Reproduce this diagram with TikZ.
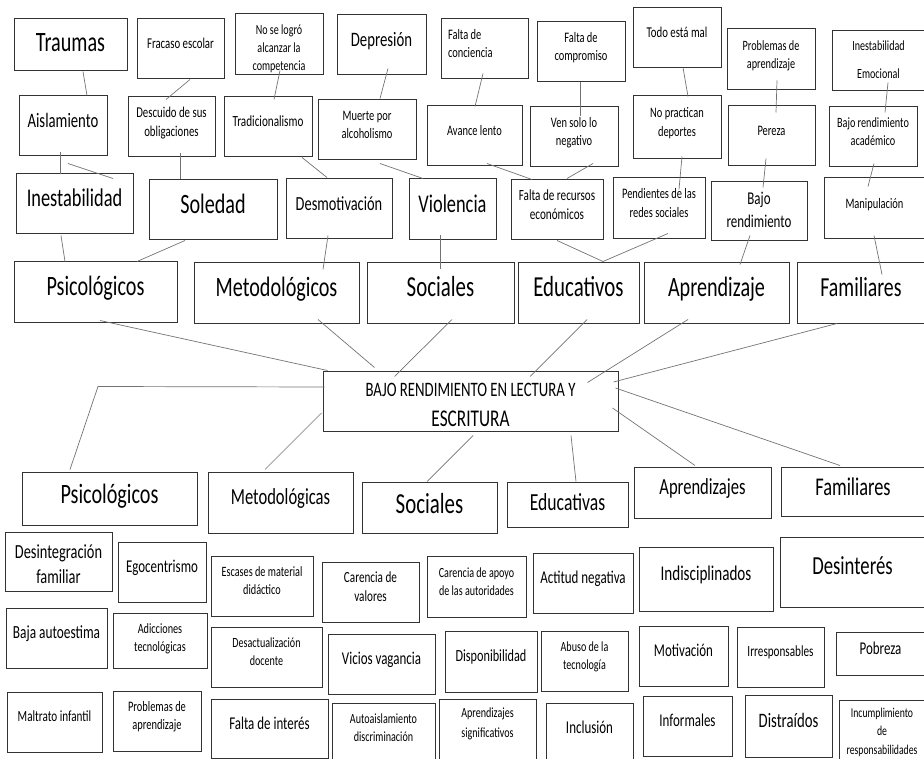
\documentclass[tikz,border=0pt]{standalone}
\usepackage{fontspec}
\setmainfont{Carlito}[FakeStretch=0.72]
\usetikzlibrary{calc}

\tikzset{
  alza/.store in=\cajaalza,
  caja/.style={draw=black!80, line width=1pt, inner sep=0pt, alza=8pt},
  lin/.style={draw=black!55, line width=0.7pt}
}

% caja: [opciones]{nombre}{x1}{y1}{x2}{y2}{tamano}{texto}
\newcommand{\caja}[8][]{%
  \pgfmathsetmacro{\cajabs}{1.28*#7}%
  \node[caja, font=\fontsize{#7}{\cajabs}\selectfont,
        minimum width=#5-#3, minimum height=#6-#4, #1]
    (#2) at ({(#3+#5)/2},{(#4+#6)/2})
    {\raisebox{0pt}[\height][\dimexpr\depth+\cajaalza\relax]{\begin{tabular}{@{}c@{}}#8\end{tabular}}};}

\begin{document}
\begin{tikzpicture}[x=1pt,y=-1pt]
\useasboundingbox (0,0) rectangle (924,759);

% fila superior
\caja[alza=2pt]{trau}{14}{19}{127}{71}{28}{Traumas}
\caja{frac}{137}{19}{224}{79}{15}{Fracaso escolar}
\caja[alza=-8pt]{nolo}{235}{14}{323}{75}{14}{No se logró\\alcanzar la\\competencia}
\caja{depr}{337}{15}{426}{75}{20.5}{Depresión}
\caja{fcon}{441}{19}{528}{79}{14.5}{\makebox[73pt][l]{Falta de}\\\makebox[73pt][l]{conciencia}}
\caja{fcom}{537}{22}{625}{82}{14.5}{Falta de\\compromiso}
\caja{todo}{633}{8}{721}{68}{15}{Todo está mal}
\caja{prob}{727}{29}{815}{90}{14.2}{Problemas de\\aprendizaje}
\caja[alza=0pt]{ines}{832}{31}{925}{91}{14}{Inestabilidad\\[10pt]Emocional}

\caja{aisl}{19}{96}{107}{156}{20.5}{Aislamiento}
\caja{desc}{128}{97}{215}{157}{15}{Descuido de sus\\obligaciones}
\caja{trad}{224}{97}{312}{157}{15.5}{Tradicionalismo}
\caja{muer}{318}{100}{416}{160}{14.5}{Muerte por\\alcoholismo}
\caja{avan}{427}{106}{522}{166}{14.5}{Avance lento}
\caja{vens}{530}{107}{618}{167}{14.5}{Ven solo lo\\negativo}
\caja{nopr}{633}{96}{721}{159}{14.5}{No practican\\deportes}
\caja{pere}{728}{106}{815}{166}{14.5}{Pereza}
\caja{bren}{829}{107}{917}{167}{14.2}{Bajo rendimiento\\académico}

\caja{inest}{16}{174}{133}{234}{25.5}{Inestabilidad}
\caja{sole}{149}{180}{277}{240}{28}{Soledad}
\caja{desm}{286}{179}{392}{239}{20}{Desmotivación}
\caja{viol}{409}{179}{496}{240}{25.5}{Violencia}
\caja{frec}{511}{180}{603}{240}{15.5}{Falta de recursos\\económicos}
\caja{pend}{613}{178}{705}{239}{14.5}{Pendientes de las\\redes sociales}
\caja[alza=0pt]{bajo}{711}{182}{807}{241}{18}{Bajo\\rendimiento}
\caja{mani}{824}{178}{925}{239}{14.5}{Manipulación}

% factores (arriba)
\caja{psi1}{14}{262}{177}{323}{28}{Psicológicos}
\caja{met1}{194}{263}{359}{324}{28}{Metodológicos}
\caja{soc1}{367}{263}{514}{324}{29}{Sociales}
\caja{edu1}{518}{263}{639}{324}{29}{Educativos}
\caja{apr1}{644}{263}{789}{324}{28}{Aprendizaje}
\caja{fam1}{797}{263}{925}{324}{27.5}{Familiares}

% problema central
\caja[alza=-9.6pt]{cen}{323}{372}{618}{431}{20.5}{BAJO RENDIMIENTO EN LECTURA Y\\[3.8pt]\fontsize{24}{24}\selectfont ESCRITURA}

% factores (abajo)
\caja[alza=5pt]{psi2}{22}{472}{197}{525}{28}{Psicológicos}
\caja{met2}{208}{472}{353}{533}{23}{Metodológicas}
\caja[alza=3pt]{soc2}{362}{482}{497}{533}{29}{Sociales}
\caja[alza=1pt]{edu2}{507}{482}{628}{527}{24.5}{Educativas}
\caja{apr2}{634}{467}{771}{518}{23}{Aprendizajes}
\caja[alza=5pt]{fam2}{781}{467}{925}{516}{25.5}{Familiares}

\caja[alza=-9pt]{dfam}{5}{532}{112}{591}{20}{Desintegración\\familiar}
\caja{egoc}{118}{542}{206}{602}{18}{Egocentrismo}
\caja{esca}{211}{556}{313}{616}{14.2}{Escases de material\\didáctico}
\caja{cval}{322}{562}{419}{622}{15.5}{Carencia de\\valores}
\caja{capo}{427}{556}{526}{617}{14}{Carencia de apoyo\\de las autoridades}
\caja{acti}{533}{553}{633}{613}{18}{Actitud negativa}
\caja{indi}{639}{547}{773}{611}{21}{Indisciplinados}
\caja{desi}{780}{537}{925}{607}{26}{Desinterés}

\caja{baja}{6}{608}{107}{668}{18.5}{Baja autoestima}
\caja[alza=4pt]{adic}{113}{613}{207}{668}{14.2}{Adicciones\\tecnológicas}
\caja{desa}{211}{627}{322}{687}{14}{Desactualización\\docente}
\caja{vici}{328}{634}{435}{694}{18}{Vicios vagancia}
\caja{disp}{445}{631}{537}{692}{17}{Disponibilidad}
\caja{abus}{541}{631}{628}{691}{14}{Abuso de la\\tecnología}
\caja{moti}{639}{626}{728}{686}{18}{Motivación}
\caja{irre}{737}{627}{824}{687}{15.5}{Irresponsables}
\caja{pobr}{836}{632}{925}{675}{18}{Pobreza}

\caja{malt}{7}{692}{102}{752}{15.5}{Maltrato infantil}
\caja{prob2}{113}{691}{201}{751}{14.5}{Problemas de\\aprendizaje}
\caja{falt}{211}{699}{328}{758}{18}{Falta de interés}
\caja[alza=4pt]{auto}{332}{703}{435}{759}{14}{Autoaislamiento\\discriminación}
\caja[alza=10pt]{apsi}{439}{699}{536}{759}{14}{Aprendizajes\\[2pt]significativos}
\caja[alza=4pt]{incl}{546}{703}{633}{759}{18}{Inclusión}
\caja{info}{643}{696}{732}{756}{18}{Informales}
\caja{dist}{745}{695}{832}{757}{20.5}{Distraídos}
\caja[alza=-6pt]{incu}{839}{700}{925}{759}{13.5}{Incumplimiento\\[1pt]de\\[1pt]responsabilidades}

% lineas de arriba
\draw[lin] ($(trau.south)+(12.5,0)$) -- ($(aisl.north)+(24,0)$);
\draw[lin] ($(frac.south)+(9.5,0)$) -- ($(desc.north)+(-5.5,3)$);
\draw[lin] ($(nolo.south)+(1,-5)$) -- ($(trad.north)+(6,3)$);
\draw[lin] ($(aisl.south)+(-3,-4)$) -- ($(inest.north)+(-14.5,1)$);
\draw[lin] ($(aisl.south)+(5,7)$) -- ($(inest.north)+(38.5,5)$);
\draw[lin] ($(desc.south)+(8.5,-4)$) -- ($(sole.north)+(-33,0)$);
\draw[lin] ($(trad.south)+(34,0)$) -- ($(desm.north)+(-12,-1)$);
\draw[lin] ($(depr.south)+(6.5,-7)$) -- ($(muer.north)+(13,-1)$);
\draw[lin] ($(muer.south)+(13,3)$) -- ($(viol.north)+(-29.5,0)$);
\draw[lin] ($(fcon.south)+(-1.5,-6)$) -- ($(avan.north)+(0.5,1)$);
\draw[lin] ($(avan.south)+(12.5,-3)$) -- ($(frec.north)+(-25,0)$);
\draw[lin] ($(fcom.south)+(-1,0)$) -- ($(vens.north)+(6,10)$);
\draw[lin] ($(vens.south)+(19,-4)$) -- ($(frec.north)+(10,-1)$);
\draw[lin] ($(todo.south)+(6,-1)$) -- ($(nopr.north)+(11,1)$);
\draw[lin] ($(nopr.south)+(5,-3)$) -- ($(pend.north)+(20,12)$);
\draw[lin] ($(prob.south)+(6,-10)$) -- ($(pere.north)+(4.5,7)$);
\draw[lin] ($(pere.south)+(-5.5,-8)$) -- ($(bajo.north)+(4,6)$);
\draw[lin] ($(ines.south)+(9.5,-9)$) -- ($(bren.north)+(12,6)$);
\draw[lin] ($(bren.south)+(1,-4)$) -- ($(mani.north)+(-6.5,9)$);

\draw[lin] ($(inest.south)+(-13.5,1)$) -- ($(psi1.north)+(-30.5,0)$);
\draw[lin] ($(sole.south)+(-28,0)$) -- ($(psi1.north)+(41.5,0)$);
\draw[lin] ($(desm.south)+(-11,-4)$) -- ($(met1.north)+(46.5,7)$);
\draw[lin] ($(viol.south)+(-12.5,-5)$) -- ($(soc1.north)+(-0.5,7)$);
\draw[lin] (frec.south) -- ($(edu1.north)+(24.5,-1)$);
\draw[lin] ($(pend.south)+(9,-6)$) -- ($(edu1.north)+(24.5,-1)$);
\draw[lin] ($(bajo.south)+(-9,-6)$) -- ($(apr1.north)+(23.5,2)$);
\draw[lin] ($(mani.south)+(-0.5,-4)$) -- ($(fam1.north)+(21,12)$);

% hacia el centro
\draw[lin] ($(psi1.south)+(4.5,-3)$) -- ($(cen.north west)+(5,-1)$);
\draw[lin] ($(met1.south)+(41.5,-5)$) -- ($(cen.north west)+(52,-4)$);
\draw[lin] ($(soc1.south)+(11.5,-5)$) -- ($(cen.north west)+(72,5)$);
\draw[lin] ($(edu1.south)+(8.5,-5)$) -- ($(cen.north)+(59.5,5)$);
\draw[lin] ($(apr1.south)+(-28.5,-5)$) -- ($(cen.north east)+(-31,11)$);
\draw[lin] ($(fam1.south)+(-24,-1)$) -- ($(cen.east)+(-5,-19.5)$);

% desde el centro
\draw[lin] ($(cen.west)+(2,-14.5)$) -- ($(psi2.north)+(-11.5,-85)$) -- ($(psi2.north)+(-39.5,-2)$);
\draw[lin] ($(cen.west)+(-1,11.5)$) -- ($(met2.north)+(-15.5,-2)$);
\draw[lin] ($(cen.south)+(2.5,4)$) -- ($(soc2.north)+(-2.5,0)$);
\draw[lin] ($(cen.south)+(100.5,4)$) -- ($(edu2.north)+(8.5,0)$);
\draw[lin] ($(cen.east)+(-6,6.5)$) -- ($(apr2.north)+(-7.5,-1)$);
\draw[lin] ($(cen.east)+(-3,-13.5)$) -- ($(fam2.north)+(-13,-1)$);
\end{tikzpicture}
\end{document}
